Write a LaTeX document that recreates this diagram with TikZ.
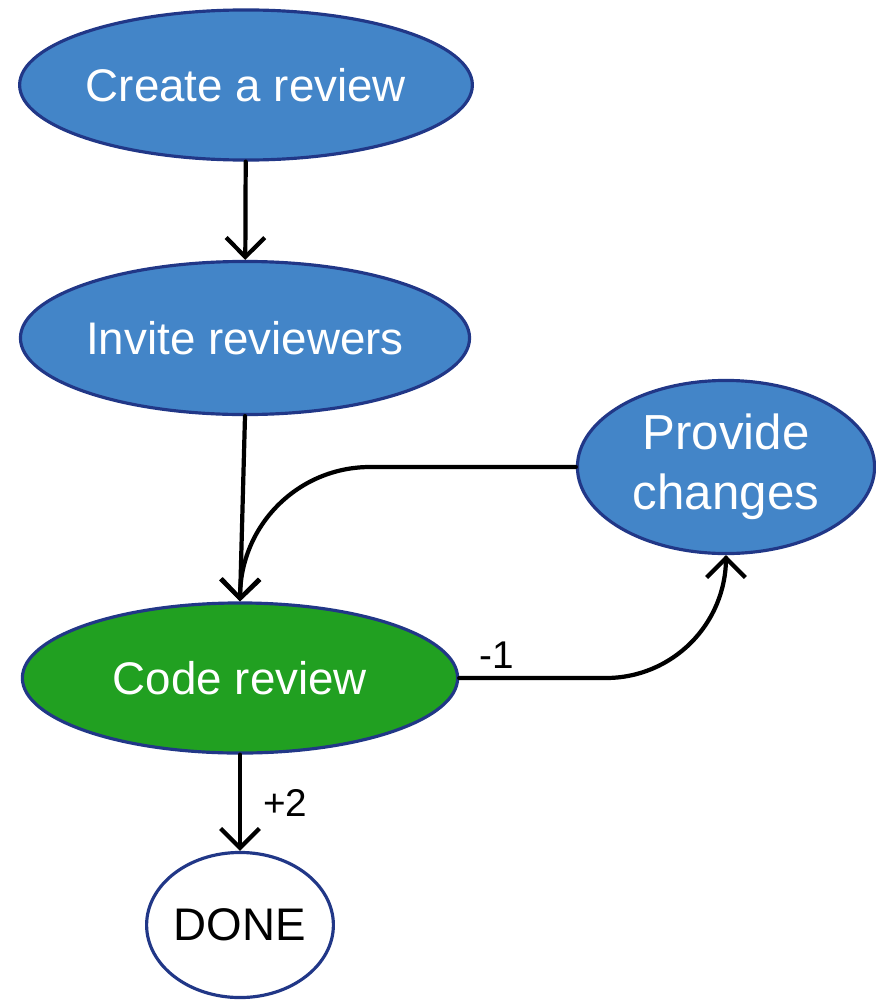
\documentclass[tikz,border=0pt]{standalone}
\usepackage{fontspec}
\setmainfont{Liberation Sans}
\usetikzlibrary{shapes.geometric,arrows.meta}
\definecolor{stepblue}{RGB}{67,133,200}
\definecolor{stepgreen}{RGB}{33,160,33}
\definecolor{rim}{RGB}{33,55,135}
\begin{document}
\begin{tikzpicture}[line cap=round,line join=round,x=0.01cm,y=-0.01cm,
  stage/.style={ellipse,draw=rim,line width=0.9pt,fill=stepblue,text=white,inner sep=0pt,
    font=\fontsize{13}{15.6}\selectfont,minimum width=4.35cm,minimum height=1.5cm},
  arr/.style={-{Straight Barb[length=5.5pt,width=11pt,line width=1.2pt]},line width=1.2pt},
  lbl/.style={font=\fontsize{11}{13}\selectfont,inner sep=2pt}]
\useasboundingbox (0,0) rectangle (875,1000);
% nodes
\node[stage] (create) at (246,85) {Create a review};
\node[stage,minimum width=4.4cm,minimum height=1.53cm] (invite) at (245,338) {Invite reviewers};
\node[stage,minimum width=2.97cm,minimum height=1.73cm,align=center,
  font=\fontsize{14}{17}\selectfont] (provide) at (726,467) {Provide\\changes};
\node[stage,fill=stepgreen] (code) at (240,678) {Code review};
\node[stage,fill=white,text=black,minimum width=1.83cm,minimum height=1.45cm] (done) at (240,925) {DONE};
% connectors
\draw[arr] (create) -- (invite);
\draw[arr] (invite.south) -- (code.north);
\draw[arr,rounded corners=1.3cm] (provide.west) -| (code.north);
\draw[arr,rounded corners=1.2cm] (code.east) -| (provide.south)
  node[lbl,pos=0.07,above] {-1};
\draw[arr] (code.south) -- (done.north) node[lbl,midway,right=4pt] {+2};
\end{tikzpicture}
\end{document}
